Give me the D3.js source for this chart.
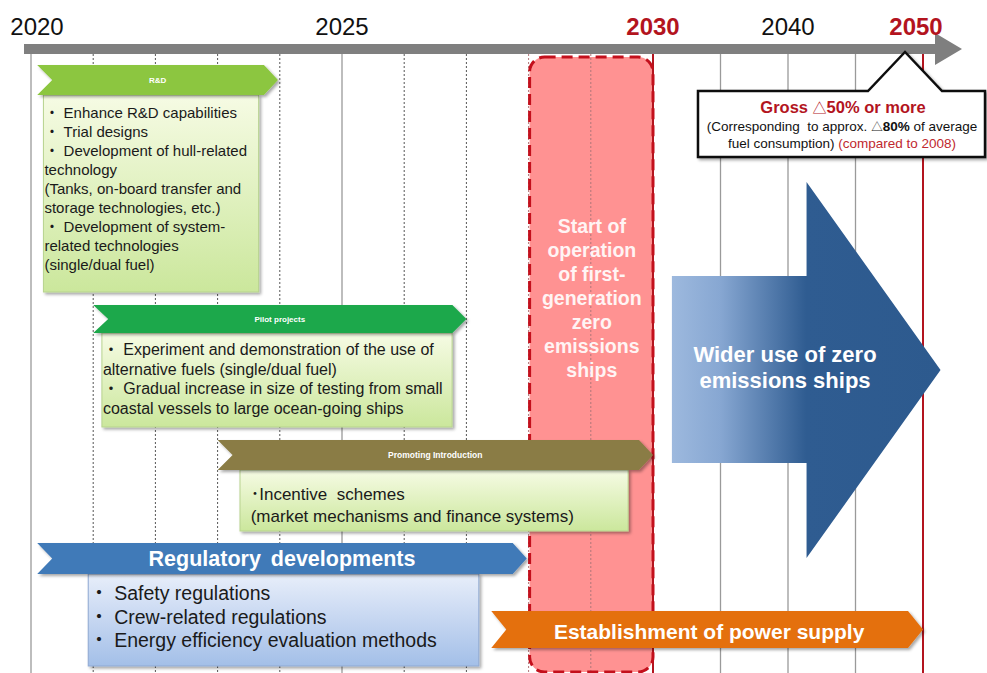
<!DOCTYPE html>
<html>
<head>
<meta charset="utf-8">
<script src="https://cdn.jsdelivr.net/npm/d3@7"></script>
<style>
body { margin: 0; background: #fff; }
svg { display: block; font-family: "Liberation Sans", Arial, "Noto Sans CJK JP", sans-serif; }
text { white-space: pre; }
</style>
</head>
<body>
<svg width="987" height="673"></svg>
<script>
// timeline ticks
const tickYears = [2020, 2025, 2030, 2040, 2050]
const keyYears = [2030, 2050]
const solidYears = [2020, 2025, 2035, 2040, 2045]
const dashedYears = [2021, 2022, 2023, 2024, 2026, 2027, 2028, 2029]

// stages: arrow span, text box span (years)
const stageNames = ['R&D', 'Pilot projects', 'Promoting Introduction', 'Regulatory developments']
const stageArrow = [[2020.1, 2023.97], [2021.0, 2027.0], [2023.0, 2030.0], [2020.1, 2027.97]]
const stageBox = [[2020.2, 2023.66], [2021.14, 2026.77], [2023.36, 2029.6], [2020.92, 2027.2]]
const stageLines = [
	['・ Enhance R&D capabilities', '・ Trial designs', '・ Development of hull-related', 'technology',
		'(Tanks, on-board transfer and', 'storage technologies, etc.)', '・ Development of system-',
		'related technologies', '(single/dual fuel)'],
	['・ Experiment and demonstration of the use of', 'alternative fuels (single/dual fuel)',
		'・ Gradual increase in size of testing from small', 'coastal vessels to large ocean-going ships'],
	[' ･Incentive  schemes', ' (market mechanisms and finance systems)'],
	['・ Safety regulations', '・ Crew-related regulations', '・ Energy efficiency evaluation methods']
]

const firstGen = [2028, 2030]
const firstGenLines = ['Start of', 'operation', 'of first-', 'generation', 'zero', 'emissions', 'ships']
const widerUse = [2031.4, 2051.3]
const widerUseLines = ['Wider use of zero', 'emissions ships']
const powerSupply = [2027.4, 2050]
const powerSupplyLabel = 'Establishment of power supply'

const W = 987, H = 673
const svg = d3.select('svg')
const x = d3.scaleLinear().domain([2020, 2030, 2050]).range([31, 653, 923])

const defs = svg.append('defs')
const shadow = defs.append('filter').attr('id', 'shadow').attr('x', '-10%').attr('y', '-10%').attr('width', '130%').attr('height', '130%')
shadow.append('feDropShadow').attr('dx', 2).attr('dy', 2).attr('stdDeviation', 1.5).attr('flood-opacity', 0.35)

const grad = (id, stops, horiz) => {
	const g = defs.append('linearGradient').attr('id', id)
		.attr('x1', 0).attr('y1', 0).attr('x2', horiz ? 1 : 0).attr('y2', horiz ? 0 : 1)
	stops.forEach(s => g.append('stop').attr('offset', s[0]).attr('stop-color', s[1]))
}
grad('greenBox', [[0, '#f6fbe4'], [1, '#cbe79c']])
grad('blueBox', [[0, '#e8eefa'], [1, '#a3bfe8']])
grad('bigArrow', [[0, '#9db9de'], [0.18, '#87a7d2'], [0.5, '#2f5c91'], [1, '#2d5a8e']], true)

const stageColors = ['#8cc63f', '#1fa84b', '#8a7c45', '#3f7ab8']
const boxFills = ['url(#greenBox)', 'url(#greenBox)', 'url(#greenBox)', 'url(#blueBox)']
const boxStroke = ['#b7d38f', '#b7d38f', '#b7d38f', '#8fa9d2']

const chevron = (x0, x1, y0, h, notch, tip) => {
	const ym = y0 + h / 2
	return `M${[x0, y0]}L${[x1 - tip, y0]}L${[x1, ym]}L${[x1 - tip, y0 + h]}L${[x0, y0 + h]}L${[x0 + notch, ym]}Z`
}

// 2030 block: fill first so the gridlines show through
const fg = svg.append('g')
const fgRect = sel => sel
	.attr('x', x(firstGen[0]) + 1).attr('y', 57)
	.attr('width', x(firstGen[1]) - x(firstGen[0]) - 1).attr('height', H - 57 - 1)
	.attr('rx', 15)
fg.append('rect').call(fgRect).attr('fill', '#ff9292')

// gridlines
const grid = svg.append('g')
grid.selectAll('line.solid').data(solidYears).join('line')
	.attr('x1', d => x(d)).attr('x2', d => x(d)).attr('y1', 54).attr('y2', H)
	.attr('stroke', '#9a9a9a').attr('stroke-width', 1.3)
grid.selectAll('line.dashed').data(dashedYears).join('line')
	.attr('x1', d => x(d)).attr('x2', d => x(d)).attr('y1', 54).attr('y2', H)
	.attr('stroke', d => d >= firstGen[0] ? '#b0777a' : '#555').attr('stroke-width', 1)
	.attr('stroke-dasharray', '2,2')
grid.selectAll('line.key').data(keyYears).join('line')
	.attr('x1', d => x(d)).attr('x2', d => x(d)).attr('y1', 54).attr('y2', H)
	.attr('stroke', '#b3141e').attr('stroke-width', 2)

svg.append('rect').call(fgRect)
	.attr('fill', 'none').attr('stroke', '#c3101c').attr('stroke-width', 3)
	.attr('stroke-dasharray', '11,6')

// axis bar with arrowhead
svg.append('path')
	.attr('d', `M24,44L935,44L935,33L962,49L935,65L935,54L24,54Z`)
	.attr('fill', '#7f7f7f')
svg.selectAll('text.tick').data(tickYears).join('text')
	.attr('x', d => Math.max(x(d), 37) - (d === 2050 ? 7 : 0))
	.attr('y', 35)
	.attr('text-anchor', 'middle')
	.attr('font-size', 24)
	.attr('font-weight', d => keyYears.includes(d) ? 'bold' : 'normal')
	.attr('fill', d => keyYears.includes(d) ? '#b3141e' : '#111')
	.text(d => d)

// stages
const arrowY = [65, 305, 440, 543]
const arrowH = [30, 28, 30, 31]
const boxY = [95, 333, 470, 574]
const boxH = [197, 94, 61, 92]
const lineY0 = [118, 355, 500, 600]
const lineStep = [19, 19.5, 22, 23.5]
const fontSize = [15, 16, 17, 19.5]
const labelSize = [8, 8, 8.5, 21.5]

stageNames.forEach((name, i) => {
	const g = svg.append('g')
	const x0 = x(stageArrow[i][0]), x1 = x(stageArrow[i][1])
	g.append('rect')
		.attr('x', x(stageBox[i][0])).attr('y', boxY[i])
		.attr('width', x(stageBox[i][1]) - x(stageBox[i][0])).attr('height', boxH[i])
		.attr('fill', boxFills[i]).attr('stroke', boxStroke[i]).attr('stroke-width', 1)
		.attr('filter', 'url(#shadow)')
	g.append('path')
		.attr('d', chevron(x0, x1, arrowY[i], arrowH[i], 15, 14))
		.attr('fill', stageColors[i])
		.attr('filter', 'url(#shadow)')
	g.append('text')
		.attr('x', (x0 + x1) / 2).attr('y', arrowY[i] + arrowH[i] / 2 + labelSize[i] * 0.35)
		.attr('text-anchor', 'middle').attr('fill', '#fff').attr('font-weight', 'bold')
		.attr('font-size', labelSize[i])
		.attr('word-spacing', i === 3 ? 4 : 0)
		.text(name)
	g.selectAll('text.line').data(stageLines[i]).join('text')
		.attr('class', 'line')
		.attr('x', x(stageBox[i][0]) + (i === 2 ? 6 : 1))
		.attr('y', (d, j) => lineY0[i] + j * lineStep[i])
		.attr('font-size', fontSize[i]).attr('fill', '#1a1a1a')
		.text(d => d)
})

// 2030 text
svg.append('g').selectAll('text').data(firstGenLines).join('text')
	.attr('x', (x(firstGen[0]) + x(firstGen[1])) / 2 + 1)
	.attr('y', (d, i) => 233 + i * 24)
	.attr('text-anchor', 'middle').attr('font-size', 19.5).attr('font-weight', 'bold')
	.attr('fill', '#fff4f4')
	.text(d => d)

// wider use arrow
const bx0 = x(widerUse[0]), bx1 = x(widerUse[1])
const headX = bx1 - 134
svg.append('path')
	.attr('d', `M${[bx0, 276]}L${[headX, 276]}L${[headX, 182]}L${[bx1, 370]}L${[headX, 558]}L${[headX, 463]}L${[bx0, 463]}Z`)
	.attr('fill', 'url(#bigArrow)')
svg.append('g').selectAll('text').data(widerUseLines).join('text')
	.attr('x', 785).attr('y', (d, i) => 362 + i * 26)
	.attr('text-anchor', 'middle').attr('font-size', 22).attr('font-weight', 'bold')
	.attr('fill', '#fff')
	.text(d => d)

// power supply
const px0 = x(powerSupply[0]), px1 = x(powerSupply[1])
svg.append('path')
	.attr('d', chevron(px0, px1, 611, 37, 15, 15))
	.attr('fill', '#e4700f')
	.attr('filter', 'url(#shadow)')
svg.append('text')
	.attr('x', (px0 + px1) / 2 + 2).attr('y', 639)
	.attr('text-anchor', 'middle').attr('font-size', 21).attr('font-weight', 'bold')
	.attr('fill', '#fff')
	.text(powerSupplyLabel)

// callout for 2050 target
const tipX = x(2050) - 18
svg.append('path')
	.attr('d', `M698,91L868,91L${tipX},52L942,91L985,91L985,157L698,157Z`)
	.attr('fill', '#fff').attr('stroke', '#111').attr('stroke-width', 2.5)
	.attr('filter', 'url(#shadow)')
const l1 = svg.append('text')
	.attr('x', 843).attr('y', 113).attr('text-anchor', 'middle')
	.attr('font-size', 16.5).attr('font-weight', 'bold').attr('fill', '#b3141e')
l1.append('tspan').text('Gross ')
l1.append('tspan').attr('font-size', 14).attr('font-weight', 'normal').text('△')
l1.append('tspan').text('50% or more')
const l2 = svg.append('text')
	.attr('x', 842).attr('y', 131).attr('text-anchor', 'middle')
	.attr('font-size', 13.5).attr('fill', '#111')
l2.append('tspan').text('(Corresponding  to approx. ')
l2.append('tspan').attr('font-size', 11.5).text('△')
l2.append('tspan').attr('font-weight', 'bold').text('80%')
l2.append('tspan').text(' of average')
const l3 = svg.append('text')
	.attr('x', 842).attr('y', 148).attr('text-anchor', 'middle')
	.attr('font-size', 13.5).attr('fill', '#111')
l3.append('tspan').text('fuel consumption) ')
l3.append('tspan').attr('fill', '#c0282e').text('(compared to 2008)')
</script>
</body>
</html>
